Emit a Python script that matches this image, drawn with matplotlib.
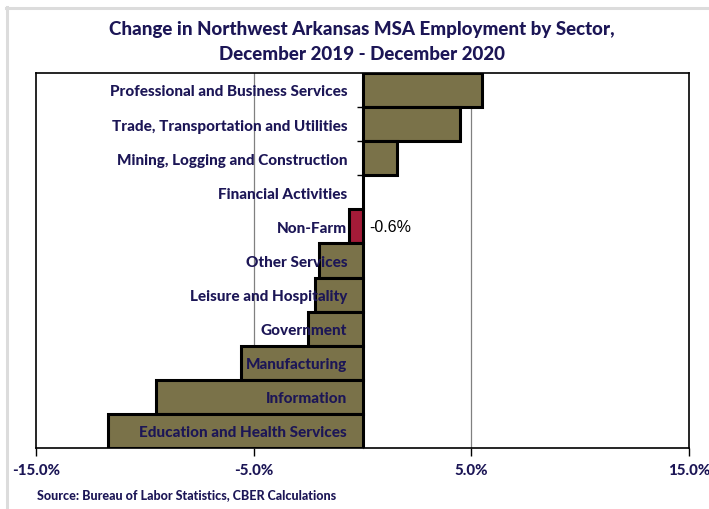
import matplotlib.pyplot as plt
from matplotlib.lines import Line2D

# Data (top to bottom as shown in chart)
sectors = [
    "Professional and Business Services",
    "Trade, Transportation and Utilities",
    "Mining, Logging and Construction",
    "Financial Activities",
    "Non-Farm",
    "Other Services",
    "Leisure and Hospitality",
    "Government",
    "Manufacturing",
    "Information",
    "Education and Health Services",
]
pct_change = [5.5, 4.5, 1.6, 0.0, -0.6, -2.0, -2.2, -2.5, -5.6, -9.5, -11.7]
highlight = "Non-Farm"
x_ticks = [-15, -5, 5, 15]

navy = "#1c1656"
olive = "#7a7249"
crimson = "#a31b38"

plt.rcParams['font.family'] = ['Lato', 'DejaVu Sans']
W = 900  # heavy weight

fig = plt.figure(figsize=(7.09, 5.10), dpi=100)
ax = fig.add_axes([36 / 709, 1 - 449 / 510, 653 / 709, 375 / 510])

n = len(sectors)
ypos = [n - 1 - i for i in range(n)]
colors = [crimson if s == highlight else olive for s in sectors]

ax.barh(ypos, pct_change, height=1.0, color=colors, edgecolor="black",
        linewidth=2.2, zorder=3)

ax.set_xlim(-15, 15)
ax.set_ylim(-0.5, n - 0.5)

# gridlines
for gx in [-5, 5]:
    ax.axvline(gx, color="#808080", lw=0.9, zorder=1)

# category axis at zero
ax.spines['left'].set_position(('data', 0))
ax.spines['left'].set_color("#808080")
ax.spines['left'].set_linewidth(0.9)
ax.spines['left'].set_zorder(2)
ax.set_yticks([y + 0.5 for y in range(n - 1)])
ax.set_yticklabels([])
ax.tick_params(axis='y', direction='out', length=4, width=1, color="black")
ax.plot([0, 0], [0, 1], transform=ax.transAxes, color="black", lw=1.2,
        clip_on=False, zorder=4)
for sp in ['top', 'right', 'bottom']:
    ax.spines[sp].set_color("black")
    ax.spines[sp].set_linewidth(1.2)

ax.set_xticks(x_ticks)
ax.set_xticklabels([f"{t:.1f}%" for t in x_ticks], fontsize=10.8,
                   fontweight=W, color=navy)
ax.tick_params(axis='x', direction='out', length=6, width=1, pad=5)

# category labels inside plot
for y, s in zip(ypos, sectors):
    ax.annotate(s, xy=(0, y), xytext=(-11, -1), textcoords="offset points",
                ha="right", va="center", fontsize=11, fontweight=W,
                color=navy, zorder=5)

# value label for Non-Farm
i = sectors.index(highlight)
ax.annotate(f"{pct_change[i]:.1f}%", xy=(0, ypos[i]), xytext=(5, 0),
            textcoords="offset points", ha="left", va="center", fontsize=11.5,
            family="Liberation Sans", color="black", zorder=5)

fig.text(362 / 709, 1 - 30 / 510, "Change in Northwest Arkansas MSA Employment by Sector,",
         ha="center", va="center", fontsize=13.5, fontweight=W, color=navy)
fig.text(362 / 709, 1 - 55 / 510, "December 2019 - December 2020",
         ha="center", va="center", fontsize=13.5, fontweight=W, color=navy)
fig.text(37 / 709, 1 - 495 / 510, "Source: Bureau of Labor Statistics, CBER Calculations",
         ha="left", va="center", fontsize=9, fontweight=W, color=navy)

# light gray chart frame (top and left)
fig.add_artist(Line2D([6.5 / 709, 6.5 / 709], [0, 1 - 8 / 510],
                      transform=fig.transFigure, color="#dcdcdc", lw=2.2))
fig.add_artist(Line2D([5.5 / 709, 1], [1 - 8.5 / 510, 1 - 8.5 / 510],
                      transform=fig.transFigure, color="#dcdcdc", lw=2.2))

fig.savefig("out.png", dpi=100)
